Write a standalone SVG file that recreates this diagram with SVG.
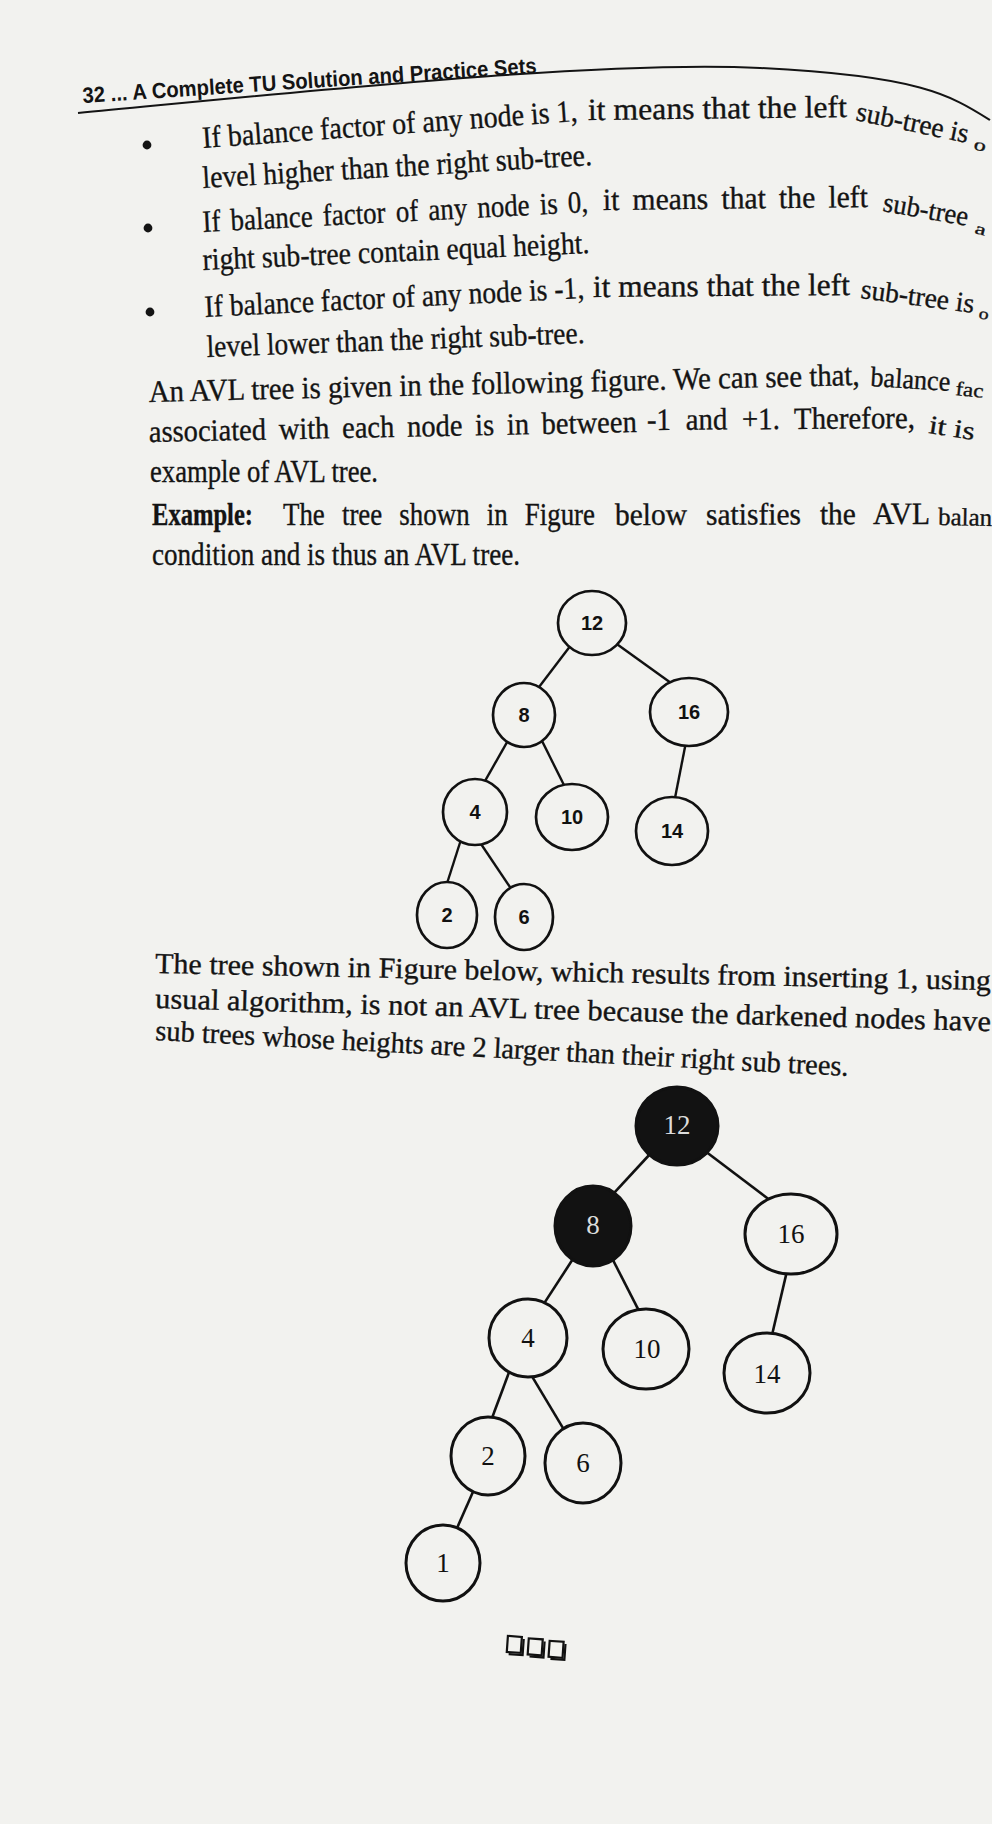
<svg xmlns="http://www.w3.org/2000/svg" width="992" height="1824" viewBox="0 0 992 1824">
<style>
.t{font-family:"Liberation Serif",serif;font-size:31px;fill:#141414;stroke:#141414;stroke-width:0.35}
.b{font-weight:bold}
.hd{font-family:"Liberation Sans",sans-serif;font-weight:bold;font-size:22px;fill:#141414}
.w1{fill:#f2f2ef;stroke:#111;stroke-width:2.7}
.w2{fill:#f2f2ef;stroke:#111;stroke-width:3}
.dk{fill:#121212;stroke:#111;stroke-width:3}
.l1{font-family:"Liberation Sans",sans-serif;font-weight:bold;font-size:20px;fill:#111;text-anchor:middle}
.l2{font-family:"Liberation Serif",serif;font-size:27px;fill:#111;text-anchor:middle}
.lw{fill:#dcdcdc}
.e1{stroke:#111;stroke-width:2.4;fill:none}
.e2{stroke:#111;stroke-width:2.6;fill:none}
.sq{fill:none;stroke:#111;stroke-width:2.2}
</style>
<rect width="992" height="1824" fill="#f2f2ef"/>

<g id="header">
<text class="hd" x="83" y="103" textLength="455" lengthAdjust="spacingAndGlyphs" transform="rotate(-3.78 83 103)">32 ... A Complete TU Solution and Practice Sets</text>
<path d="M78,113 C300,92 600,60 760,68 S950,95 990,120" fill="none" stroke="#141414" stroke-width="2"/>
</g>

<g id="bullets" fill="#141414">
<circle cx="147" cy="145" r="4.4"/>
<circle cx="148" cy="228" r="4.4"/>
<circle cx="150" cy="312" r="4.4"/>
</g>

<g id="text-top">
<text class="t" x="203" y="148" textLength="376" lengthAdjust="spacingAndGlyphs" transform="rotate(-4.12 203 148)">If balance factor of any node is 1,</text>
<text class="t" x="588" y="120" textLength="259" lengthAdjust="spacingAndGlyphs" transform="rotate(-0.66 588 120)">it means that the left</text>
<text class="t" x="855" y="120" style="font-size:28px" textLength="114" lengthAdjust="spacingAndGlyphs" transform="rotate(11.6 855 120)">sub-tree is</text>
<text class="t" x="973" y="149" style="font-size:17px" textLength="12" lengthAdjust="spacingAndGlyphs" transform="rotate(14 973 149)">o</text>
<text class="t" x="203" y="188" textLength="390" lengthAdjust="spacingAndGlyphs" transform="rotate(-3.38 203 188)">level higher than the right sub-tree.</text>

<text class="t" x="203" y="232" style="word-spacing:4px" textLength="386" lengthAdjust="spacingAndGlyphs" transform="rotate(-2.97 203 232)">If balance factor of any node is 0,</text>
<text class="t" x="603" y="210" style="word-spacing:6px" textLength="265" lengthAdjust="spacingAndGlyphs" transform="rotate(-0.65 603 210)">it means that the left</text>
<text class="t" x="882" y="211" style="font-size:28px" textLength="86" lengthAdjust="spacingAndGlyphs" transform="rotate(10 882 211)">sub-tree</text>
<text class="t" x="974" y="233" style="font-size:16px" textLength="11" lengthAdjust="spacingAndGlyphs" transform="rotate(14 974 233)">a</text>
<text class="t" x="203" y="270" textLength="387" lengthAdjust="spacingAndGlyphs" transform="rotate(-2.52 203 270)">right sub-tree contain equal height.</text>

<text class="t" x="205" y="317" textLength="380" lengthAdjust="spacingAndGlyphs" transform="rotate(-2.86 205 317)">If balance factor of any node is -1,</text>
<text class="t" x="593" y="297" textLength="257" lengthAdjust="spacingAndGlyphs" transform="rotate(-0.45 593 297)">it means that the left</text>
<text class="t" x="860" y="298" style="font-size:28px" textLength="114" lengthAdjust="spacingAndGlyphs" transform="rotate(7.56 860 298)">sub-tree is</text>
<text class="t" x="978" y="318" style="font-size:16px" textLength="10" lengthAdjust="spacingAndGlyphs" transform="rotate(12 978 318)">o</text>
<text class="t" x="207" y="357" textLength="378" lengthAdjust="spacingAndGlyphs" transform="rotate(-2.12 207 357)">level lower than the right sub-tree.</text>

<text class="t" x="149" y="402" textLength="711" lengthAdjust="spacingAndGlyphs" transform="rotate(-1.37 149 402)">An AVL tree is given in the following figure. We can see that,</text>
<text class="t" x="870" y="386" style="font-size:28px" textLength="80" lengthAdjust="spacingAndGlyphs" transform="rotate(3.58 870 386)">balance</text>
<text class="t" x="955" y="395" style="font-size:20px" textLength="28" lengthAdjust="spacingAndGlyphs" transform="rotate(6 955 395)">fac</text>
<text class="t" x="149" y="442" style="word-spacing:6px" textLength="488" lengthAdjust="spacingAndGlyphs" transform="rotate(-1.17 149 442)">associated with each node is in between</text>
<text class="t" x="647" y="430" style="word-spacing:8px" textLength="268" lengthAdjust="spacingAndGlyphs" transform="rotate(-0.43 647 430)">-1 and +1. Therefore,</text>
<text class="t" x="928" y="433" style="font-size:26px" textLength="46" lengthAdjust="spacingAndGlyphs" transform="rotate(8.8 928 433)">it is</text>
<text class="t" x="150" y="482" textLength="228" lengthAdjust="spacingAndGlyphs">example of AVL tree.</text>
<text class="t b" x="152" y="525" textLength="101" lengthAdjust="spacingAndGlyphs">Example:</text>
<text class="t" x="283" y="525" style="word-spacing:12px" textLength="312" lengthAdjust="spacingAndGlyphs">The tree shown in Figure</text>
<text class="t" x="615" y="525" style="word-spacing:12px" textLength="315" lengthAdjust="spacingAndGlyphs" transform="rotate(-0.2 615 525)">below satisfies the AVL</text>
<text class="t" x="938" y="525" style="font-size:25px" textLength="54" lengthAdjust="spacingAndGlyphs" transform="rotate(1 938 525)">balan</text>
<text class="t" x="152" y="565" textLength="368" lengthAdjust="spacingAndGlyphs">condition and is thus an AVL tree.</text>
</g>

<g id="text-middle">
<text class="t" x="155" y="973" style="font-size:29px" textLength="836" lengthAdjust="spacingAndGlyphs" transform="rotate(1.17 155 973)">The tree shown in Figure below, which results from inserting 1, using</text>
<text class="t" x="155" y="1008" style="font-size:29px" textLength="836" lengthAdjust="spacingAndGlyphs" transform="rotate(1.58 155 1008)">usual algorithm, is not an AVL tree because the darkened nodes have</text>
<text class="t" x="155" y="1040" style="font-size:29px" textLength="694" lengthAdjust="spacingAndGlyphs" transform="rotate(2.97 155 1040)">sub trees whose heights are 2 larger than their right sub trees.</text>
</g>

<g id="connectors">
<line class="e1" x1="571" y1="645" x2="536" y2="691"/>
<line class="e1" x1="614" y1="642" x2="671" y2="683"/>
<line class="e1" x1="508.5" y1="739.6" x2="482.5" y2="785.4"/>
<line class="e1" x1="540.8" y1="738.5" x2="565.2" y2="787.5"/>
<line class="e1" x1="686" y1="742" x2="674" y2="803"/>
<line class="e1" x1="461.5" y1="838" x2="446.5" y2="885"/>
<line class="e1" x1="479" y1="841" x2="512" y2="890"/>

<line class="e2" x1="651" y1="1153" x2="611.6" y2="1195.7"/>
<line class="e2" x1="705" y1="1151" x2="771" y2="1201"/>
<line class="e2" x1="573.7" y1="1257.8" x2="542.8" y2="1305.4"/>
<line class="e2" x1="611.7" y1="1257.5" x2="640.4" y2="1313.7"/>
<line class="e2" x1="787.4" y1="1269.2" x2="771.3" y2="1338"/>
<line class="e2" x1="510.1" y1="1369.4" x2="491" y2="1420.8"/>
<line class="e2" x1="529.9" y1="1372.9" x2="565" y2="1431.4"/>
<line class="e2" x1="474.6" y1="1488.3" x2="455.4" y2="1531.7"/>
</g>

<g id="t1-n12"><ellipse class="w1" cx="592" cy="623" rx="34" ry="32"/><text class="l1" x="592" y="630">12</text></g>
<g id="t1-n8"><ellipse class="w1" cx="524" cy="715" rx="31" ry="32"/><text class="l1" x="524" y="722">8</text></g>
<g id="t1-n16"><ellipse class="w1" cx="689" cy="712" rx="39" ry="34"/><text class="l1" x="689" y="719">16</text></g>
<g id="t1-n4"><ellipse class="w1" cx="475" cy="812" rx="32" ry="33"/><text class="l1" x="475" y="819">4</text></g>
<g id="t1-n10"><ellipse class="w1" cx="572" cy="817" rx="36" ry="33"/><text class="l1" x="572" y="824">10</text></g>
<g id="t1-n14"><ellipse class="w1" cx="672" cy="831" rx="36" ry="34"/><text class="l1" x="672" y="838">14</text></g>
<g id="t1-n2"><ellipse class="w1" cx="447" cy="915" rx="30" ry="33"/><text class="l1" x="447" y="922">2</text></g>
<g id="t1-n6"><ellipse class="w1" cx="524" cy="917" rx="29" ry="33"/><text class="l1" x="524" y="924">6</text></g>

<g id="t2-n12"><ellipse class="dk" cx="677" cy="1126" rx="41" ry="39"/><text class="l2 lw" x="677" y="1134">12</text></g>
<g id="t2-n8"><ellipse class="dk" cx="593" cy="1226" rx="38" ry="40"/><text class="l2 lw" x="593" y="1234">8</text></g>
<g id="t2-n16"><ellipse class="w2" cx="791" cy="1234" rx="46" ry="40"/><text class="l2" x="791" y="1243">16</text></g>
<g id="t2-n4"><ellipse class="w2" cx="528" cy="1338" rx="39" ry="39"/><text class="l2" x="528" y="1347">4</text></g>
<g id="t2-n10"><ellipse class="w2" cx="646" cy="1349" rx="43" ry="40"/><text class="l2" x="647" y="1358">10</text></g>
<g id="t2-n14"><ellipse class="w2" cx="767" cy="1373" rx="43" ry="40"/><text class="l2" x="767" y="1383">14</text></g>
<g id="t2-n2"><ellipse class="w2" cx="488" cy="1456" rx="37" ry="39"/><text class="l2" x="488" y="1465">2</text></g>
<g id="t2-n6"><ellipse class="w2" cx="583" cy="1463" rx="38" ry="40"/><text class="l2" x="583" y="1472">6</text></g>
<g id="t2-n1"><ellipse class="w2" cx="443" cy="1563" rx="37" ry="38"/><text class="l2" x="443" y="1572">1</text></g>

<g id="end-mark">
<g transform="rotate(4 537 1650)">
<rect class="sq" x="507" y="1638" width="14" height="16"/>
<polyline class="sq" points="509,1656 523,1656 523,1640" stroke-width="2.6"/>
<rect class="sq" x="528" y="1639" width="14" height="16"/>
<polyline class="sq" points="530,1657 544,1657 544,1641" stroke-width="2.6"/>
<rect class="sq" x="549" y="1640" width="14" height="16"/>
<polyline class="sq" points="551,1658 565,1658 565,1642" stroke-width="2.6"/>
</g>
</g>
</svg>
